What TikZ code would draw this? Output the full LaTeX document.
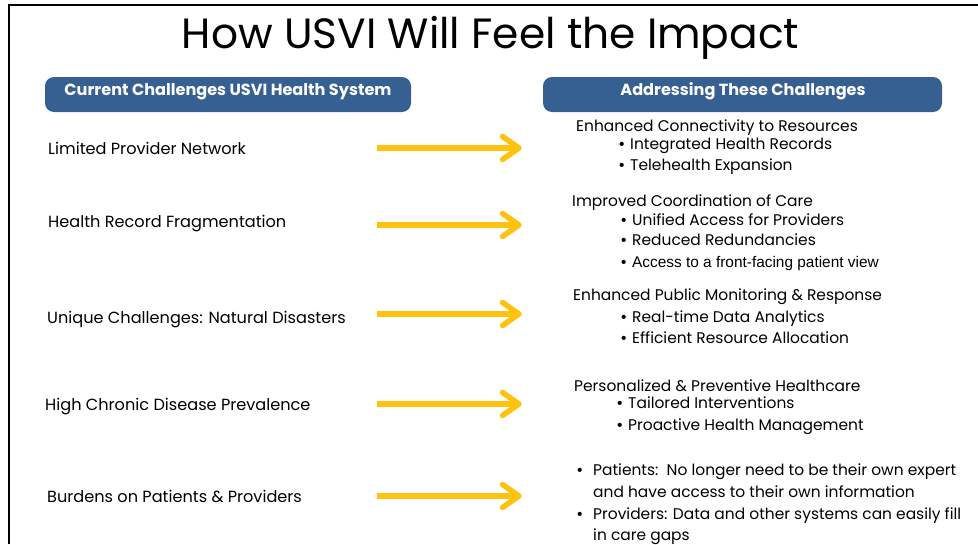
\documentclass[tikz,border=0pt]{standalone}
\usepackage{fontspec}
\setmainfont{Poppins}
\newfontfamily\arialfont{Liberation Sans}
\definecolor{hdrblue}{RGB}{54,95,146}
\definecolor{arrowgold}{RGB}{255,194,14}
\newcommand{\bul}[1]{\makebox[#1][l]{\arialfont•}}
\begin{document}
\begin{tikzpicture}[x=1pt,y=-1pt,
  frame/.style={draw=black, line width=2pt},
  titletxt/.style={font=\fontsize{42.3}{48}\selectfont, anchor=base, inner sep=0pt},
  hdrbox/.style={fill=hdrblue, rounded corners=9pt, minimum height=35pt, inner sep=0pt},
  hdrtxt/.style={text=white, font=\bfseries\fontsize{16.1}{19}\selectfont, anchor=base, inner sep=0pt},
  itemtxt/.style={font=\fontsize{16.15}{20}\selectfont, anchor=base west, inner sep=0pt},
  resptxt/.style={font=\fontsize{15.45}{19}\selectfont, anchor=base west, inner sep=0pt},
  smalltxt/.style={font=\arialfont\fontsize{15.4}{18}\selectfont, anchor=base west, inner sep=0pt},
  goldline/.style={draw=arrowgold, line width=5.5pt},
  goldtip/.style={draw=arrowgold, line width=5.5pt, line cap=round, line join=round},
]
\useasboundingbox (0,0) rectangle (978,544);

% page frame: top and left rules
\coordinate (frBL) at (9,544);
\coordinate (frTL) at (9,5);
\coordinate (frTR) at (978,5);
\draw[frame] (frBL) -- (frTL) -- (frTR);

% title
\node[titletxt] (title) at (490.5,48) {How USVI Will Feel the Impact};

% column headers
\node[hdrbox, minimum width=366pt] (hdrL) at (228,94.5) {};
\node[hdrtxt] (hdrLtxt) at (228,95.5) {Current Challenges USVI Health System};
\node[hdrbox, minimum width=399pt] (hdrR) at (742.5,94.5) {};
\node[hdrtxt] (hdrRtxt) at (743,95.5) {Addressing These Challenges};

% challenges
\node[itemtxt] (c1) at (48,154) {Limited Provider Network};
\node[itemtxt] (c2) at (48,227.5) {Health Record Fragmentation};
\node[itemtxt] (c3) at (47,323) {Unique Challenges: Natural Disasters};
\node[itemtxt] (c4) at (45,410.5) {High Chronic Disease Prevalence};
\node[itemtxt] (c5) at (47,502) {Burdens on Patients \& Providers};

% responses
\node[resptxt] (r1) at (576,131.5) {Enhanced Connectivity to Resources};
\node[resptxt] (r1a) at (619,149.5) {\bul{11pt}Integrated Health Records};
\node[resptxt] (r1b) at (619,170) {\bul{11pt}Telehealth Expansion};

\node[resptxt] (r2) at (572,206) {Improved Coordination of Care};
\node[resptxt] (r2a) at (621,225) {\bul{11pt}Unified Access for Providers};
\node[resptxt] (r2b) at (621,245.5) {\bul{11pt}Reduced Redundancies};
\node[smalltxt] (r2c) at (621,267) {\bul{11pt}Access to a front-facing patient view};

\node[resptxt] (r3) at (573,300.5) {Enhanced Public Monitoring \& Response};
\node[resptxt] (r3a) at (621,322.5) {\bul{11pt}Real-time Data Analytics};
\node[resptxt] (r3b) at (621,343.5) {\bul{11pt}Efficient Resource Allocation};

\node[resptxt] (r4) at (574,391) {Personalized \& Preventive Healthcare};
\node[resptxt] (r4a) at (617,408.5) {\bul{11pt}Tailored Interventions};
\node[resptxt] (r4b) at (617,430) {\bul{11pt}Proactive Health Management};

\node[resptxt] (r5a) at (577,475) {\bul{16pt}Patients:\ \ No longer need to be their own expert};
\node[resptxt] (r5b) at (593,497) {and have access to their own information};
\node[resptxt] (r5c) at (577,519) {\bul{16pt}Providers: Data and other systems can easily fill};
\node[resptxt] (r5d) at (593,540) {in care gaps};

% arrows from each challenge to its response
\foreach \i/\y in {1/148,2/225,3/314,4/404,5/496}{
  \coordinate (as\i) at (377,\y);
  \coordinate (ae\i) at (519,\y);
  \draw[goldline] (as\i) -- (ae\i);
  \draw[goldtip] ([shift={(-16.5,-11.5)}]ae\i) -- (ae\i) -- ([shift={(-16.5,11.5)}]ae\i);
}
\end{tikzpicture}
\end{document}
